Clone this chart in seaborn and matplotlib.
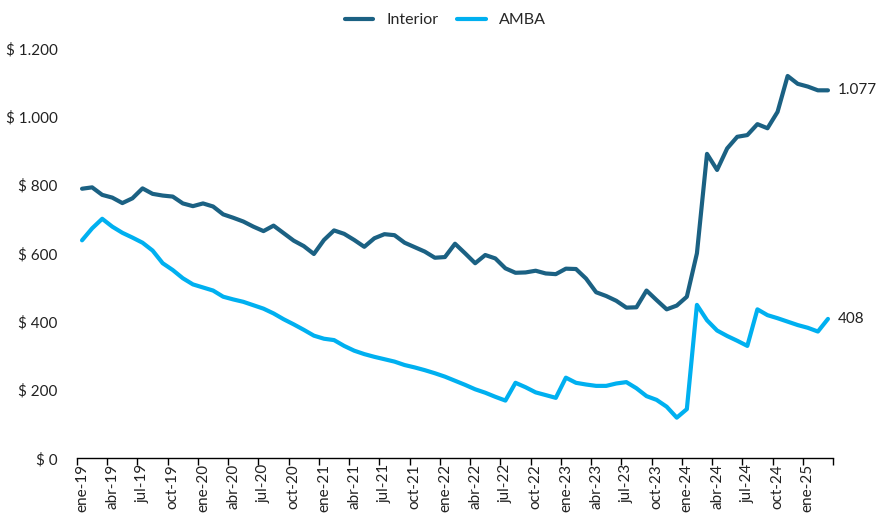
import matplotlib
matplotlib.use("Agg")
import matplotlib.pyplot as plt
import matplotlib.ticker as mticker
import seaborn as sns
import numpy as np
import pandas as pd

# Monthly values, ene-19 .. mar-25
meses = ["ene", "feb", "mar", "abr", "may", "jun", "jul", "ago", "sep", "oct", "nov", "dic"]
periodos = [f"{m}-{a}" for a in range(19, 26) for m in meses][:75]

interior = [789, 793, 771, 763, 747, 761, 790, 774, 769, 766, 746, 738,
            746, 737, 714, 704, 693, 678, 665, 681, 659, 637, 621, 598,
            639, 667, 657, 639, 619, 644, 656, 653, 631, 618, 605, 587,
            589, 628, 600, 571, 595, 585, 556, 543, 544, 549, 541, 539,
            555, 554, 526, 486, 475, 461, 441, 442, 491, 463, 436, 447,
            473, 600, 891, 844, 907, 941, 946, 978, 966, 1014, 1119, 1096,
            1088, 1077, 1077]

amba = [638, 673, 701, 678, 660, 646, 631, 608, 571, 551, 527, 509,
        500, 491, 473, 465, 458, 448, 438, 424, 407, 392, 376, 359,
        350, 346, 329, 315, 305, 297, 290, 283, 273, 266, 258, 249,
        239, 227, 215, 202, 192, 180, 169, 221, 208, 193, 185, 177,
        236, 221, 216, 212, 212, 219, 223, 205, 182, 171, 151, 119,
        144, 449, 404, 374, 358, 344, 329, 436, 419, 410, 400, 390,
        382, 371, 408]

colores = {"Interior": "#1B6183", "AMBA": "#00B0F0"}

df = pd.DataFrame({
    "idx": list(range(len(periodos))) * 2,
    "valor": interior + amba,
    "serie": ["Interior"] * len(interior) + ["AMBA"] * len(amba),
})

sns.set_theme(style="white")
plt.rcParams["font.family"] = ["Lato", "DejaVu Sans"]

fig = plt.figure(figsize=(8.8, 5.16), dpi=100)
ax = fig.add_axes([0.0875, 0.1118, 0.8591, 0.7946])

sns.lineplot(data=df, x="idx", y="valor", hue="serie", palette=colores,
             linewidth=3, ax=ax, legend=False)

n = len(periodos)
ax.set_xlim(-0.5, n - 0.5)
ax.set_ylim(0, 1200)

# y axis
ax.yaxis.set_major_locator(mticker.MultipleLocator(200))
ax.yaxis.set_major_formatter(mticker.FuncFormatter(
    lambda v, p: "$ " + f"{v:,.0f}".replace(",", ".")))
ax.tick_params(axis="y", length=0, labelsize=11, colors="#222222", pad=14)

# x axis: tick marks between categories, labels every 3 months
ax.set_xticks(np.arange(-0.5, n, 3))
ax.set_xticklabels([])
ax.set_xticks(np.arange(0, n, 3), minor=True)
ax.set_xticklabels(periodos[::3], minor=True, rotation=90)
ax.tick_params(axis="x", which="major", length=5, width=1, color="black", direction="out", bottom=True)
ax.tick_params(axis="x", which="minor", length=0, labelsize=11, colors="#222222", pad=4)

for s in ["top", "right", "left"]:
    ax.spines[s].set_visible(False)
ax.spines["bottom"].set_color("black")
ax.spines["bottom"].set_linewidth(1)
ax.set_xlabel("")
ax.set_ylabel("")

# end labels
ax.annotate(f"{interior[-1]:,}".replace(",", "."), (n - 1, interior[-1]),
            xytext=(7, 0), textcoords="offset points", va="center", fontsize=11, color="#222222")
ax.annotate(f"{amba[-1]}", (n - 1, amba[-1]),
            xytext=(7, 0), textcoords="offset points", va="center", fontsize=11, color="#222222")

handles = [plt.Line2D([], [], color=colores[k], linewidth=3) for k in ["Interior", "AMBA"]]
fig.legend(handles, ["Interior", "AMBA"], loc="center", bbox_to_anchor=(0.506, 0.961),
           ncol=2, frameon=False, fontsize=11.5, handlelength=1.8, columnspacing=1.2)

fig.savefig("out.png", dpi=100)
